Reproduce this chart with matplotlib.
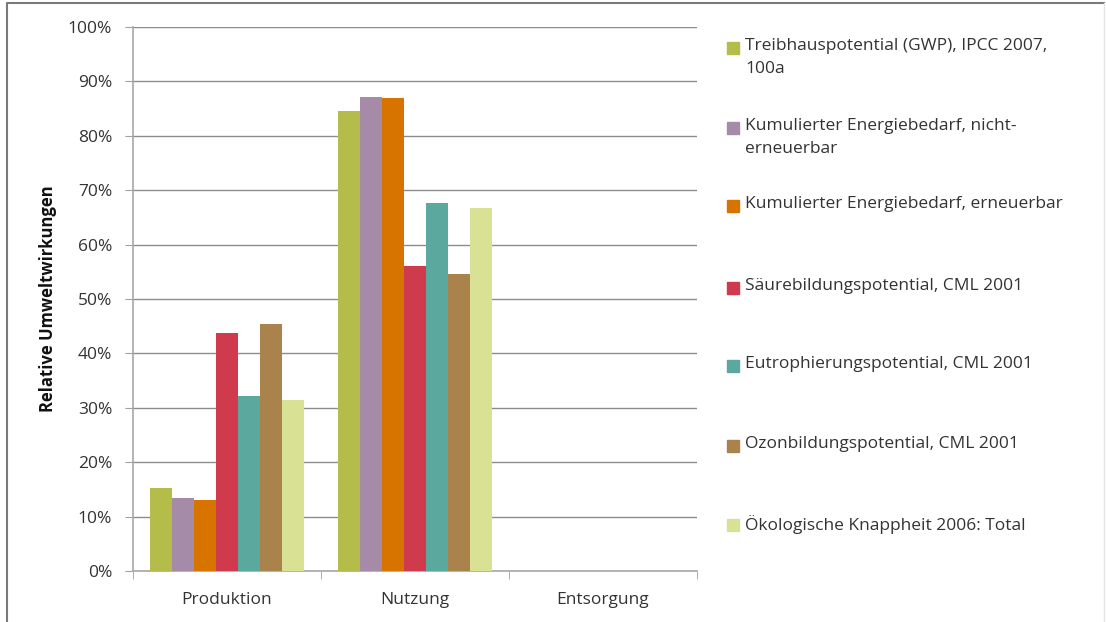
import numpy as np
import matplotlib.pyplot as plt
from matplotlib.patches import Rectangle
from matplotlib.lines import Line2D

plt.rcParams['font.family'] = ['Open Sans', 'DejaVu Sans']

phases = ['Produktion', 'Nutzung', 'Entsorgung']
labels = [
    'Treibhauspotential (GWP), IPCC 2007,\n100a',
    'Kumulierter Energiebedarf, nicht-\nerneuerbar',
    'Kumulierter Energiebedarf, erneuerbar',
    'Säurebildungspotential, CML 2001',
    'Eutrophierungspotential, CML 2001',
    'Ozonbildungspotential, CML 2001',
    'Ökologische Knappheit 2006: Total',
]
gwp = [15.2, 84.6, 0.0]
ked_ne = [13.4, 87.1, 0.0]
ked_e = [13.0, 86.9, 0.0]
saeure = [43.8, 56.0, 0.0]
eutro = [32.2, 67.6, 0.0]
ozon = [45.4, 54.6, 0.0]
ubp = [31.5, 66.8, 0.0]
series = [gwp, ked_ne, ked_e, saeure, eutro, ozon, ubp]
colors = ['#b5bd4a', '#a58ba8', '#d77400', '#cf3a4d', '#5ba99e', '#aa834c', '#d9e294']

W, H = 1106, 622
fig = plt.figure(figsize=(W / 100, H / 100), dpi=100)
ax = fig.add_axes([133 / W, 1 - 571 / H, (697 - 133) / W, (571 - 27) / H])

x = np.arange(len(phases))
n = len(series)
bw = 0.824 / n
for i, (vals, c) in enumerate(zip(series, colors)):
    ax.bar(x - 0.412 + bw * (i + 0.5), vals, width=bw, color=c, zorder=3)

ax.set_xlim(-0.5, len(phases) - 0.5)
ax.set_ylim(0, 100)
ax.set_yticks(np.arange(0, 101, 10))
ax.set_yticklabels([f'{v}%' for v in range(0, 101, 10)])
ax.set_xticks(x)
ax.set_xticklabels(phases)
ax.set_xticks(np.arange(-0.5, len(phases), 1), minor=True)
ax.tick_params(axis='x', which='major', length=0, pad=15)
ax.tick_params(axis='x', which='minor', length=6, color='#a0a0a0', direction='out')
ax.tick_params(axis='y', length=6, color='#a0a0a0', pad=9)
ax.tick_params(labelsize=12.5, labelcolor='#333333')
ax.grid(axis='y', color='#8c8c8c', linewidth=1, zorder=0)
for s in ['top', 'right']:
    ax.spines[s].set_visible(False)
for s in ['left', 'bottom']:
    ax.spines[s].set_color('#a8a8a8')
    ax.spines[s].set_linewidth(1.2)
ax.set_ylabel('Relative Umweltwirkungen', fontsize=12, fontweight='bold', color='#111111', labelpad=8)

# legend, placed like the original
leg_y = [47, 127, 205, 287, 365, 445, 524]
for lab, c, yy in zip(labels, colors, leg_y):
    fig.patches.append(Rectangle((727 / W, 1 - (yy + 7) / H), 12 / W, 12 / H,
                                 transform=fig.transFigure, color=c))
    fig.text(745 / W, 1 - (yy - 9) / H, lab, fontsize=12.5, color='#333333',
             va='top', ha='left', linespacing=1.55)

# chart border
fig.lines.append(Line2D([7 / W, 7 / W, 1104 / W], [0, 1 - 3 / H, 1 - 3 / H],
                        transform=fig.transFigure, color='#7a7a7a', linewidth=1.5))
fig.lines.append(Line2D([1104 / W, 1104 / W], [0, 1 - 3 / H],
                        transform=fig.transFigure, color='#e4e4e4', linewidth=1))

fig.savefig('out.png', dpi=100)
